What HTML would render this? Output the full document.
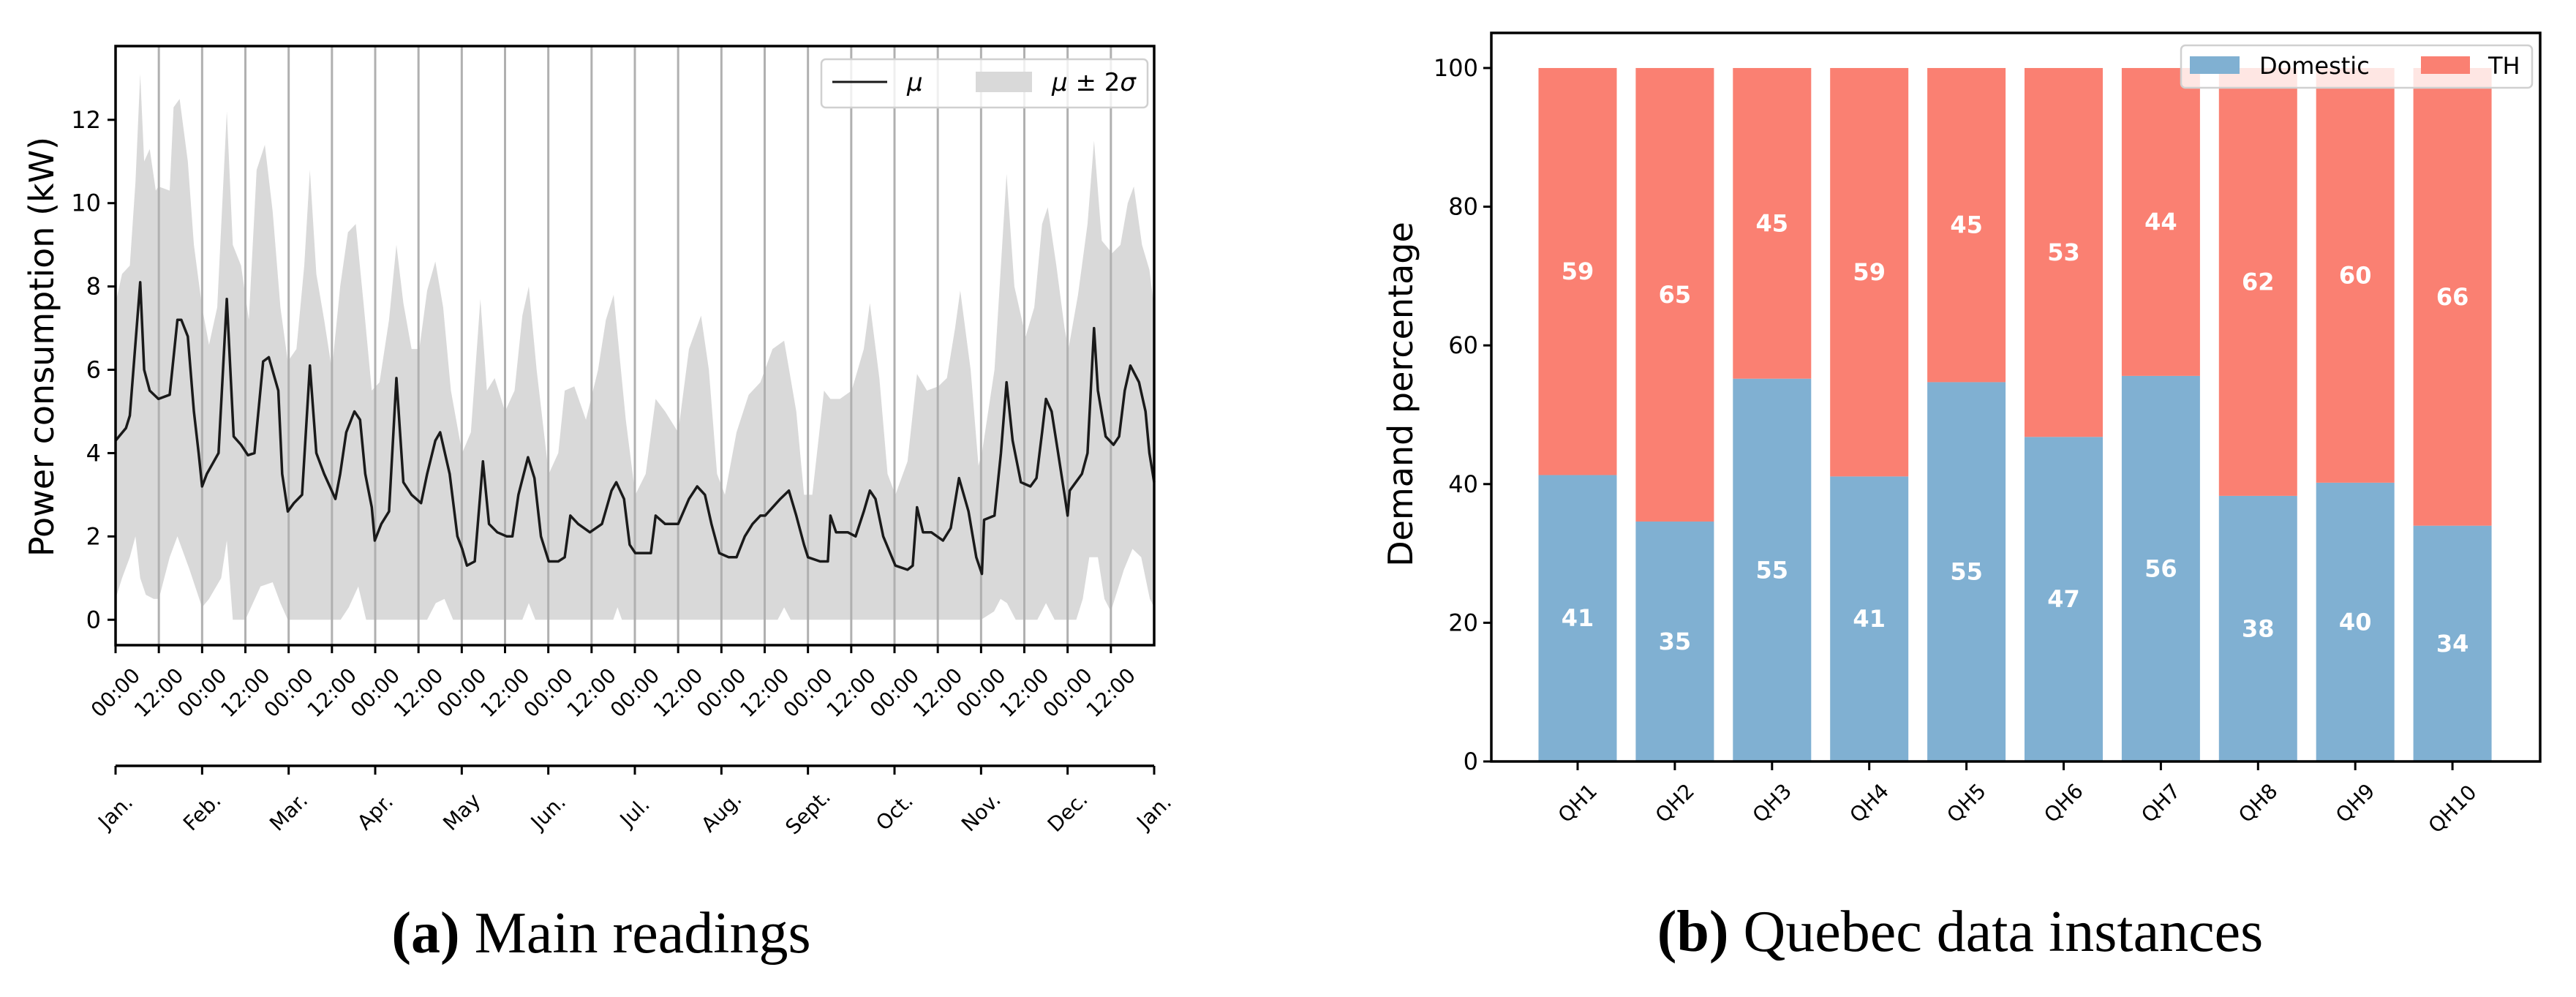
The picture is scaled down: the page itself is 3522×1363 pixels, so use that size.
<!DOCTYPE html>
<html><head><meta charset="utf-8"><style>
html,body{margin:0;padding:0;background:#fff;}
svg{display:block;font-family:"DejaVu Sans","Liberation Sans",sans-serif;}
</style></head><body>
<svg id="fig" width="3522" height="1363" viewBox="0 0 3522 1363" xmlns="http://www.w3.org/2000/svg">
<rect x="0" y="0" width="3522" height="1363" fill="#fff"/>
<g id="left"></g>
<g id="right"></g>
<text x="822" y="1302" text-anchor="middle" font-family="Liberation Serif, serif" font-size="80"><tspan font-weight="bold">(a)</tspan> Main readings</text>
<text x="2680" y="1300" text-anchor="middle" font-family="Liberation Serif, serif" font-size="80"><tspan font-weight="bold">(b)</tspan> Quebec data instances</text>
</svg>
<script>
// ---- Left chart data (time in half-day units 0..24, values in kW) ----
const meanT=[0,0.24,0.33,0.57,0.66,0.79,0.99,1.25,1.43,1.52,1.67,1.81,1.92,2.00,2.11,2.38,2.57,2.73,2.90,3.06,3.21,3.41,3.54,3.76,3.85,3.98,4.12,4.31,4.49,4.64,4.82,5.08,5.19,5.33,5.52,5.65,5.77,5.92,5.99,6.14,6.32,6.49,6.65,6.84,7.06,7.20,7.39,7.50,7.72,7.90,8.01,8.12,8.30,8.49,8.63,8.82,9.04,9.17,9.31,9.53,9.68,9.83,10.01,10.23,10.38,10.51,10.69,10.96,11.24,11.46,11.57,11.75,11.88,12.01,12.37,12.48,12.70,13.00,13.25,13.44,13.62,13.77,13.95,14.17,14.35,14.54,14.72,14.90,15.01,15.36,15.56,15.73,15.91,16.00,16.28,16.46,16.52,16.65,16.92,17.10,17.29,17.43,17.56,17.74,18.02,18.30,18.42,18.52,18.66,18.85,19.12,19.30,19.49,19.71,19.89,20.02,20.07,20.31,20.46,20.59,20.73,20.92,21.14,21.28,21.41,21.50,21.63,21.78,21.93,22.00,22.05,22.33,22.46,22.61,22.70,22.88,23.06,23.19,23.32,23.45,23.65,23.80,23.89,24.00];
const meanV=[4.3,4.6,4.9,8.1,6.0,5.5,5.3,5.4,7.2,7.2,6.8,5.0,4.0,3.2,3.5,4.0,7.7,4.4,4.2,3.95,4.0,6.2,6.3,5.5,3.5,2.6,2.8,3.0,6.1,4.0,3.5,2.9,3.5,4.5,5.0,4.8,3.5,2.7,1.9,2.3,2.6,5.8,3.3,3.0,2.8,3.5,4.3,4.5,3.5,2.0,1.7,1.3,1.4,3.8,2.3,2.1,2.0,2.0,3.0,3.9,3.4,2.0,1.4,1.4,1.5,2.5,2.3,2.1,2.3,3.1,3.3,2.9,1.8,1.6,1.6,2.5,2.3,2.3,2.9,3.2,3.0,2.3,1.6,1.5,1.5,2.0,2.3,2.5,2.5,2.9,3.1,2.5,1.8,1.5,1.4,1.4,2.5,2.1,2.1,2.0,2.6,3.1,2.9,2.0,1.3,1.2,1.3,2.7,2.1,2.1,1.9,2.2,3.4,2.6,1.5,1.1,2.4,2.5,4.0,5.7,4.3,3.3,3.2,3.4,4.5,5.3,5.0,4.0,3.0,2.5,3.1,3.5,4.0,7.0,5.5,4.4,4.2,4.4,5.5,6.1,5.7,5.0,4.0,3.3];
const upperT=[0,0.15,0.33,0.46,0.57,0.66,0.79,0.93,0.99,1.25,1.34,1.48,1.67,1.81,2.0,2.16,2.35,2.57,2.71,2.90,3.08,3.26,3.45,3.63,3.81,3.98,4.18,4.36,4.49,4.64,4.82,5.0,5.19,5.37,5.55,5.74,5.92,6.10,6.32,6.49,6.65,6.84,7.02,7.20,7.39,7.57,7.75,8.01,8.21,8.43,8.58,8.76,9.0,9.22,9.40,9.55,9.73,10.01,10.23,10.38,10.60,10.87,11.15,11.33,11.51,11.79,12.01,12.25,12.48,12.70,13.0,13.25,13.53,13.71,13.90,14.08,14.35,14.63,14.90,15.18,15.45,15.73,15.91,16.10,16.37,16.52,16.74,17.01,17.29,17.43,17.65,17.84,18.02,18.30,18.52,18.75,19.01,19.21,19.40,19.52,19.76,19.94,20.02,20.31,20.46,20.59,20.77,21.03,21.23,21.41,21.54,21.74,21.93,22.02,22.24,22.46,22.61,22.79,23.03,23.22,23.39,23.53,23.72,23.89,24];
const upperV=[7.6,8.3,8.5,10.5,13.1,11.0,11.3,10.3,10.4,10.3,12.3,12.5,11.0,9.0,7.5,6.6,7.5,12.2,9.0,8.5,7.2,10.8,11.4,9.8,7.5,6.2,6.5,8.5,10.8,8.3,7.2,6.0,8.0,9.3,9.5,7.5,5.5,5.7,7.2,9.0,7.6,6.5,6.5,7.9,8.6,7.5,5.5,4.0,4.5,7.7,5.5,5.8,5.0,5.5,7.3,8.0,6.0,3.5,4.0,5.5,5.6,4.8,6.0,7.2,7.8,4.8,3.0,3.5,5.3,5.0,4.5,6.5,7.3,6.0,3.5,3.0,4.5,5.4,5.7,6.5,6.7,5.0,3.0,3.0,5.5,5.3,5.3,5.5,6.5,7.6,5.8,3.5,3.0,3.8,5.9,5.5,5.6,5.8,7.0,7.9,6.0,3.7,4.0,6.0,8.5,10.7,8.0,6.8,7.5,9.5,9.9,8.5,7.0,6.5,7.8,9.5,11.5,9.1,8.8,9.0,10.0,10.4,9.0,8.4,7.5];
const lowerT=[0,0.15,0.33,0.46,0.57,0.70,0.88,1.0,1.25,1.43,1.71,2.0,2.16,2.44,2.57,2.71,3.0,3.35,3.63,3.81,3.98,5.2,5.39,5.61,5.79,7.2,7.4,7.6,7.8,9.4,9.55,9.7,11.5,11.6,11.7,15.3,15.45,15.6,20.0,20.3,20.45,20.6,20.8,21.3,21.5,21.7,22.2,22.35,22.5,22.7,22.85,23.0,23.3,23.5,23.7,23.9,24];
const lowerV=[0.5,1.0,1.5,2.0,1.0,0.6,0.5,0.5,1.5,2.0,1.2,0.3,0.5,1.0,1.9,0.0,0.0,0.8,0.9,0.4,0,0,0.3,0.8,0,0,0.4,0.5,0,0,0.4,0,0,0.3,0,0,0.3,0,0,0.2,0.5,0.4,0,0,0.4,0,0,0.5,1.5,1.5,0.5,0.2,1.2,1.7,1.5,0.5,0.3];
const timeTickLabels=["00:00","12:00"];
const monthLabels=["Jan.","Feb.","Mar.","Apr.","May","Jun.","Jul.","Aug.","Sept.","Oct.","Nov.","Dec.","Jan."];
const yTicksLeft=[0,2,4,6,8,10,12];

// ---- Right chart data ----
const categories=["QH1","QH2","QH3","QH4","QH5","QH6","QH7","QH8","QH9","QH10"];
const domestic=[41.3,34.6,55.2,41.1,54.7,46.8,55.6,38.3,40.2,34.0];
const th=[58.7,65.4,44.8,58.9,45.3,53.2,44.4,61.7,59.8,66.0];
const yTicksRight=[0,20,40,60,80,100];

const NS="http://www.w3.org/2000/svg";
function mk(parent,tag,attrs,text){const e=document.createElementNS(NS,tag);for(const k in attrs)e.setAttribute(k,attrs[k]);if(text!==undefined)e.textContent=text;parent.appendChild(e);return e;}

// ===== Left chart =====
(function(){
const g=document.getElementById('left');
const X0=158,X1=1578,Y0=63,Y1=882;
const vmin=-0.61,vmax=13.77;
const xs=t=>X0+(X1-X0)*t/24;
const ys=v=>Y1-(v-vmin)/(vmax-vmin)*(Y1-Y0);
// band: build from union of upper and lower time points
let d='M'+xs(upperT[0])+','+ys(upperV[0]);
for(let i=1;i<upperT.length;i++)d+='L'+xs(upperT[i]).toFixed(1)+','+ys(upperV[i]).toFixed(1);
for(let i=lowerT.length-1;i>=0;i--)d+='L'+xs(lowerT[i]).toFixed(1)+','+ys(lowerV[i]).toFixed(1);
d+='Z';
const band=mk(g,'path',{d:d,fill:'#d9d9d9',stroke:'none'});


// grid lines
for(let i=1;i<24;i++){
  const gl=mk(g,'line',{x1:xs(i),x2:xs(i),y1:Y0,y2:Y1,stroke:'#b0b0b0','stroke-width':3});
  
  
}
// mean line
let md='';
for(let i=0;i<meanT.length;i++)md+=(i?'L':'M')+xs(meanT[i]).toFixed(1)+','+ys(meanV[i]).toFixed(1);
const ml=mk(g,'path',{d:md,fill:'none',stroke:'#1a1a1a','stroke-width':3.5,'stroke-linejoin':'round'});


// spines
const fr=mk(g,'rect',{x:X0,y:Y0,width:X1-X0,height:Y1-Y0,fill:'none',stroke:'#000','stroke-width':3.5});


// y ticks
yTicksLeft.forEach(v=>{
  mk(g,'line',{x1:X0-11,x2:X0,y1:ys(v),y2:ys(v),stroke:'#000','stroke-width':3});
  const t=mk(g,'text',{x:X0-20,y:ys(v),'text-anchor':'end','dominant-baseline':'central','font-size':32},String(v));
  
  
});
const yl=mk(g,'text',{x:0,y:0,transform:'translate(57,474) rotate(-90)','text-anchor':'middle','dominant-baseline':'central','font-size':46},'Power consumption (kW)');


// time ticks
for(let i=0;i<24;i++){
  mk(g,'line',{x1:xs(i),x2:xs(i),y1:Y1,y2:Y1+11,stroke:'#000','stroke-width':3});
  const t=mk(g,'text',{x:0,y:0,transform:'translate('+xs(i)+',947) rotate(-45)','text-anchor':'middle','dominant-baseline':'central','font-size':28},timeTickLabels[i%2]);
  
  
}
// month axis
const MY=1047;
const ma=mk(g,'line',{x1:X0,x2:X1,y1:MY,y2:MY,stroke:'#000','stroke-width':3.5});


monthLabels.forEach((m,i)=>{
  const x=X0+(X1-X0)*i/12;
  mk(g,'line',{x1:x,x2:x,y1:MY,y2:MY+12,stroke:'#000','stroke-width':3});
  const t=mk(g,'text',{x:0,y:0,transform:'translate('+x+',1110) rotate(-45)','text-anchor':'middle','dominant-baseline':'central','font-size':28},m);
  
  
});
// legend
const lg=mk(g,'g',{});


mk(lg,'rect',{x:1123,y:81,width:446,height:66,rx:6,fill:'#fff','fill-opacity':0.8,stroke:'#d0d0d0','stroke-width':2.5});
mk(lg,'line',{x1:1138,x2:1213,y1:112,y2:112,stroke:'#1a1a1a','stroke-width':3});
const l1=mk(lg,'text',{x:1240,y:113,'dominant-baseline':'central','font-size':34,'font-style':'italic'},'μ');


mk(lg,'rect',{x:1334,y:98,width:77,height:28,fill:'#d9d9d9'});
const l2=mk(lg,'text',{x:1438,y:113,'dominant-baseline':'central','font-size':34},'');
l2.innerHTML='<tspan font-style="italic">μ</tspan> ± 2<tspan font-style="italic">σ</tspan>';


})();

// ===== Right chart =====
(function(){
const g=document.getElementById('right');
const X0=2039,X1=3473,Y0=45,Y1=1041;
const vmax=105.06;
const ys=v=>Y1-v/vmax*(Y1-Y0);
const step=132.9, first=2157, bw=107;
const xc=i=>first+i*step;
categories.forEach((c,i)=>{
  const x=xc(i)-bw/2;
  const b1=mk(g,'rect',{x:x,y:ys(domestic[i]),width:bw,height:Y1-ys(domestic[i]),fill:'#80b0d2'});
  
  
  const top=domestic[i]+th[i];
  const b2=mk(g,'rect',{x:x,y:ys(top),width:bw,height:ys(domestic[i])-ys(top),fill:'#fa8072'});
  
  
  const t1=mk(g,'text',{x:xc(i),y:ys(domestic[i]/2),'text-anchor':'middle','dominant-baseline':'central','font-size':32,'font-weight':'bold',fill:'#fff'},String(Math.round(domestic[i])));
  
  
  const t2=mk(g,'text',{x:xc(i),y:ys(domestic[i]+th[i]/2),'text-anchor':'middle','dominant-baseline':'central','font-size':32,'font-weight':'bold',fill:'#fff'},String(Math.round(th[i])));
  
  
  mk(g,'line',{x1:xc(i),x2:xc(i),y1:Y1,y2:Y1+12,stroke:'#000','stroke-width':3});
  const cl=mk(g,'text',{x:0,y:0,transform:'translate('+xc(i)+','+(i==9?1106:1098)+') rotate(-45)','text-anchor':'middle','dominant-baseline':'central','font-size':28},c);
  
  
});
const fr=mk(g,'rect',{x:X0,y:Y0,width:X1-X0,height:Y1-Y0,fill:'none',stroke:'#000','stroke-width':3.5});


yTicksRight.forEach(v=>{
  mk(g,'line',{x1:X0-11,x2:X0,y1:ys(v),y2:ys(v),stroke:'#000','stroke-width':3});
  const t=mk(g,'text',{x:X0-18,y:ys(v),'text-anchor':'end','dominant-baseline':'central','font-size':32},String(v));
  
  
});
const yl=mk(g,'text',{x:0,y:0,transform:'translate(1915,539) rotate(-90)','text-anchor':'middle','dominant-baseline':'central','font-size':46},'Demand percentage');


const lg=mk(g,'g',{});


mk(lg,'rect',{x:2982,y:62,width:480,height:58,rx:6,fill:'#fff','fill-opacity':0.8,stroke:'#d0d0d0','stroke-width':2.5});
mk(lg,'rect',{x:2994,y:77,width:68,height:24,fill:'#80b0d2'});
const e1=mk(lg,'text',{x:3089,y:90,'dominant-baseline':'central','font-size':32},'Domestic');


mk(lg,'rect',{x:3310,y:77,width:67,height:24,fill:'#fa8072'});
const e2=mk(lg,'text',{x:3402,y:90,'dominant-baseline':'central','font-size':32},'TH');


})();
</script>
</body></html>
